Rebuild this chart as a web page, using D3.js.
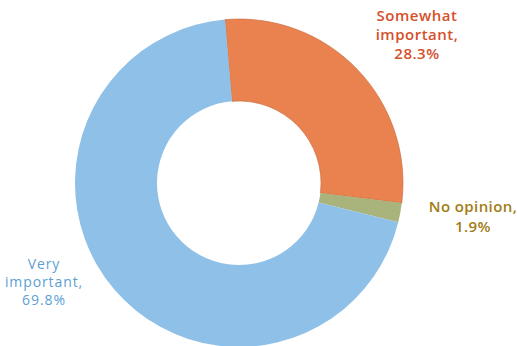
<!DOCTYPE html>
<html>
<head>
<meta charset="utf-8">
<script src="https://cdn.jsdelivr.net/npm/d3@7/dist/d3.min.js"></script>
<style>
  html, body { margin: 0; padding: 0; background: #ffffff; }
  svg { display: block; }
  text { font-family: "Open Sans", "DejaVu Sans", sans-serif; }
</style>
</head>
<body>
<svg id="chart" width="517" height="346"></svg>
<script>
const categories = ["Somewhat important", "No opinion", "Very important"];
const values = [28.3, 1.9, 69.8];
const labelLines = [
  ["Somewhat", "important,", "28.3%"],
  ["No opinion,", "1.9%"],
  ["Very", "important,", "69.8%"]
];
const sliceColors = ["#e9824f", "#a9b37c", "#8fc0e7"];
const textColors = ["#d4502a", "#a27c14", "#5d9fd4"];

const W = 517, H = 346;
const cx = 239, cy = 183, outerR = 164, innerR = 82;
const startA = -0.0855;

const svg = d3.select("#chart");
const g = svg.append("g").attr("transform", `translate(${cx},${cy})`);

const pie = d3.pie().sort(null).value(d => d)
  .startAngle(startA).endAngle(startA + 2 * Math.PI);
const arcs = pie(values);
const arc = d3.arc().innerRadius(innerR).outerRadius(outerR);

g.selectAll("path.slice").data(arcs).enter().append("path")
  .attr("class", "slice")
  .attr("d", arc)
  .attr("fill", (d, i) => sliceColors[i])
  .attr("stroke", (d, i) => i === 0 ? "#c8673c" : "none")
  .attr("stroke-width", 0.6);

const labelPos = [
  { x: 417, y: 20.5, dy: 19.4, weight: 600, size: 15, ls: 0.5 },
  { x: 473, y: 212, dy: 20, weight: 600, size: 15, ls: 0.4 },
  { x: 44, y: 269, dy: 17.8, weight: 400, size: 14, ls: 0.9 }
];

labelLines.forEach((lines, i) => {
  const p = labelPos[i];
  const t = svg.append("text")
    .attr("text-anchor", "middle")
    .attr("fill", textColors[i])
    .attr("font-size", p.size)
    .attr("font-weight", p.weight)
    .attr("letter-spacing", p.ls);
  lines.forEach((ln, j) => {
    t.append("tspan").attr("x", p.x).attr("y", p.y + j * p.dy).text(ln);
  });
});
</script>
</body>
</html>
